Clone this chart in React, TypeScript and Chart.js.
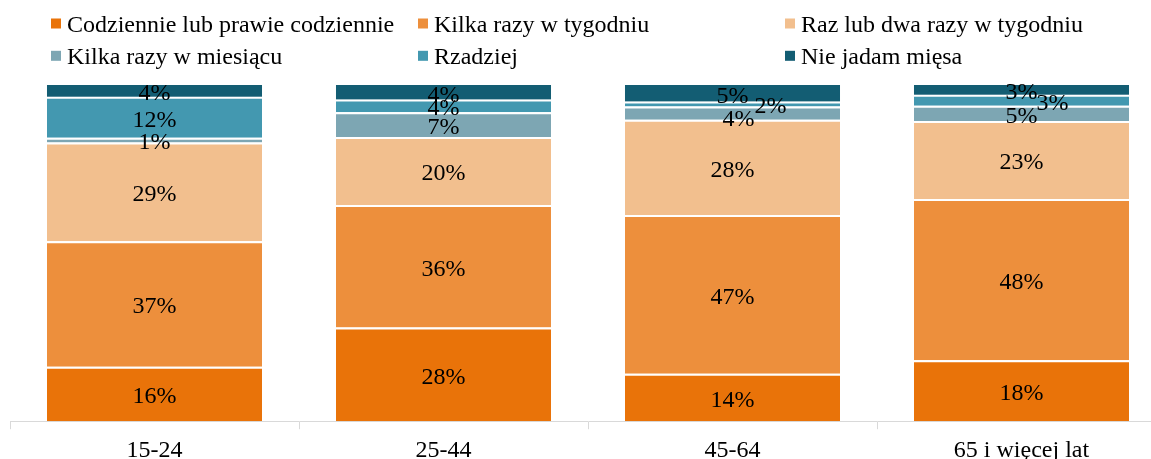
import React, { useEffect, useRef } from "react";
import { Chart, registerables } from "chart.js";

Chart.register(...registerables);

// ---- Data ----
const categories = ["15-24", "25-44", "45-64", "65 i więcej lat"];

const seriesNames = [
  "Codziennie lub prawie codziennie",
  "Kilka razy w tygodniu",
  "Raz lub dwa razy w tygodniu",
  "Kilka razy w miesiącu",
  "Rzadziej",
  "Nie jadam mięsa",
];

const daily = [16.2, 27.9, 14.1, 18.1];
const severalWeekly = [37.3, 36.4, 47.2, 48.0];
const onceTwiceWeekly = [29.4, 20.2, 28.4, 23.2];
const severalMonthly = [1.4, 7.4, 3.9, 4.5];
const rarely = [12.2, 3.8, 1.5, 3.3];
const noMeat = [3.5, 4.3, 4.9, 2.9];

const seriesValues = [daily, severalWeekly, onceTwiceWeekly, severalMonthly, rarely, noMeat];

const seriesColors = ["#E97309", "#ED8F3C", "#F2BF8E", "#7DA6B3", "#4398B0", "#135D73"];

// label nudges for crowded small segments: "datasetIndex-categoryIndex": [dx, dy]
const LABEL_NUDGE: Record<string, [number, number]> = {
  "4-2": [38, 0],
  "3-2": [6, 4],
  "4-3": [31, 0],
};

const FONT = "'Liberation Serif', 'Times New Roman', serif";

const gridLegendPlugin = {
  id: "gridLegend",
  afterDraw(chart: any) {
    const ctx = chart.ctx as CanvasRenderingContext2D;
    ctx.save();
    ctx.font = `24px ${FONT}`;
    ctx.textAlign = "left";
    ctx.textBaseline = "alphabetic";
    chart.data.datasets.forEach((ds: any, i: number) => {
      const col = i % 3;
      const row = Math.floor(i / 3);
      const x = 51 + col * 367;
      const yTop = 18.5 + row * 32.3;
      ctx.fillStyle = ds.backgroundColor;
      ctx.fillRect(x, yTop, 10, 10);
      ctx.fillStyle = "#000";
      ctx.fillText(ds.label, x + 16, yTop + 13.3);
    });
    ctx.restore();
  },
};

const dataLabelPlugin = {
  id: "segmentLabels",
  afterDatasetsDraw(chart: any) {
    const ctx = chart.ctx as CanvasRenderingContext2D;
    ctx.save();
    ctx.font = `24px ${FONT}`;
    ctx.textAlign = "center";
    ctx.textBaseline = "middle";
    ctx.fillStyle = "#000";
    chart.data.datasets.forEach((ds: any, di: number) => {
      const meta = chart.getDatasetMeta(di);
      meta.data.forEach((el: any, i: number) => {
        const { x, y, base } = el.getProps(["x", "y", "base"], true);
        const v = ds.data[i] as number;
        const n = LABEL_NUDGE[`${di}-${i}`] || [0, 0];
        ctx.fillText(`${Math.round(v)}%`, x + n[0], (y + base) / 2 + 3 + n[1]);
      });
    });
    ctx.restore();
  },
};

export default function App() {
  const canvasRef = useRef<HTMLCanvasElement | null>(null);

  useEffect(() => {
    const canvas = canvasRef.current;
    if (!canvas) return;
    const last = seriesNames.length - 1;
    const chart = new Chart(canvas, {
      type: "bar",
      data: {
        labels: categories,
        datasets: seriesNames.map((name, i) => ({
          label: name,
          data: seriesValues[i],
          backgroundColor: seriesColors[i],
          borderColor: "#FFFFFF",
          borderWidth: i === last ? 0 : { top: 2, right: 0, bottom: 0, left: 0 },
          borderSkipped: false,
          categoryPercentage: 1,
          barPercentage: 0.744,
        })),
      },
      options: {
        responsive: false,
        animation: false,
        devicePixelRatio: 1,
        layout: { padding: { top: 85, left: 10, right: 0, bottom: 8 } },
        plugins: {
          legend: { display: false },
          tooltip: { enabled: false },
          title: { display: false },
        },
        scales: {
          x: {
            stacked: true,
            grid: {
              offset: true,
              drawOnChartArea: false,
              tickLength: 8,
              color: "#D9D9D9",
              lineWidth: 1,
            },
            border: { color: "#D9D9D9", width: 1 },
            ticks: {
              font: { family: FONT, size: 24 },
              color: "#000",
              padding: 7,
              maxRotation: 0,
              autoSkip: false,
            },
          },
          y: {
            stacked: true,
            display: false,
            min: 0,
            max: 100,
          },
        },
      },
      plugins: [dataLabelPlugin, gridLegendPlugin],
    });
    return () => chart.destroy();
  }, []);

  return (
    <div
      style={{
        position: "fixed",
        left: 0,
        top: 0,
        width: 1151,
        height: 459,
        overflow: "hidden",
        background: "#FFFFFF",
      }}
    >
      <canvas ref={canvasRef} width={1166} height={480} style={{ display: "block", width: 1166, height: 480 }} />
    </div>
  );
}
